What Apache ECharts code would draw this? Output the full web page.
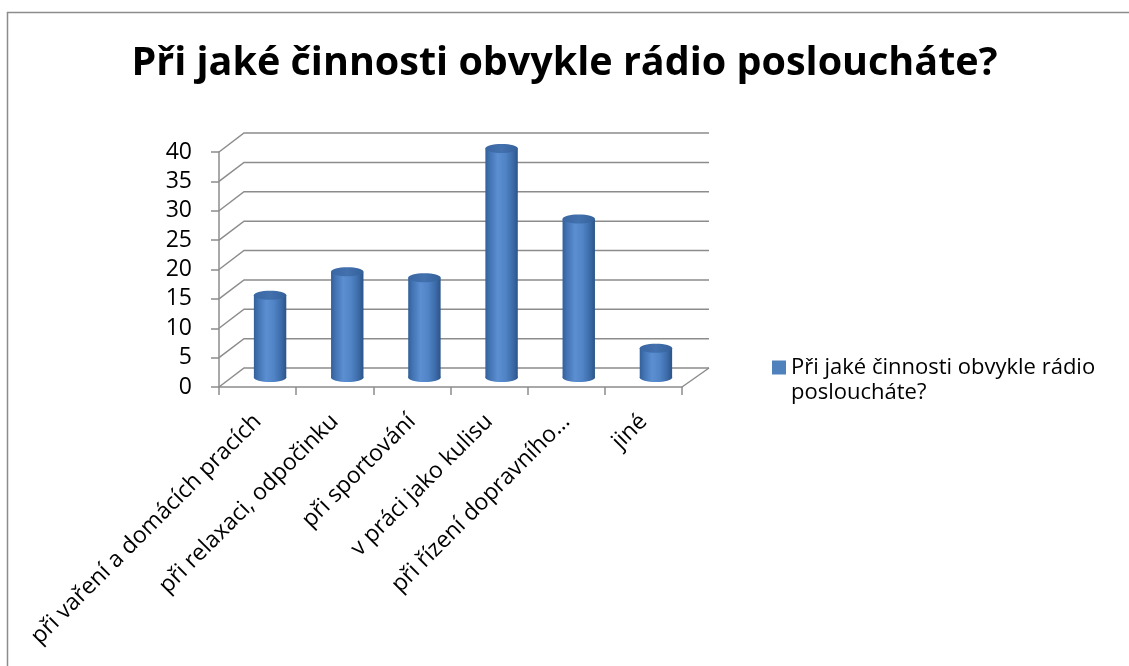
<!DOCTYPE html>
<html>
<head>
<meta charset="utf-8">
<script src="https://cdn.jsdelivr.net/npm/echarts@6/dist/echarts.min.js"></script>
<style>
  html, body { margin: 0; padding: 0; background: #fff; }
  #chart { width: 1129px; height: 666px; }
</style>
</head>
<body>
<div id="chart"></div>
<script>
// data
const titleText = 'Při jaké činnosti obvykle rádio posloucháte?'
const categories = [
  'při vaření a domácích pracích',
  'při relaxaci, odpočinku',
  'při sportování',
  'v práci jako kulisu',
  'při řízení dopravního…',
  'jiné'
]
const values = [14, 18, 17, 39, 27, 5]
const yTicks = [0, 5, 10, 15, 20, 25, 30, 35, 40]
const yMin = 0
const yMax = 40
const yStep = 5

// look
const DEPTH = [25, -19] // fake 3d depth of the plot box
const LINE = '#8c8c8c'
const FONT = 'Open Sans'

// left wall diagonals + back wall gridlines
function renderWall(params, api) {
  const cs = params.coordSys
  const v = api.value(1)
  const y = api.coord([0, v])[1]
  const x0 = cs.x
  const x1 = cs.x + cs.width
  const children = [{
    type: 'polyline',
    shape: { points: [[x0, y], [x0 + DEPTH[0], y + DEPTH[1]], [x1 + DEPTH[0] + 2, y + DEPTH[1]]] },
    style: { stroke: LINE, lineWidth: 1.5, fill: 'none' }
  }]
  if (v === yMin) {
    // right edge of the floor
    children.push({
      type: 'line',
      shape: { x1: x1, y1: y, x2: x1 + DEPTH[0] + 2, y2: y + DEPTH[1] },
      style: { stroke: LINE, lineWidth: 1.5 }
    })
  }
  return { type: 'group', children }
}

// cylinder bar, sitting half way into the depth
function renderCylinder(params, api) {
  const i = api.value(0)
  const top = api.coord([i, api.value(1)])
  const base = api.coord([i, yMin])
  const w = api.size([1, 0])[0] * 0.42
  const rx = w / 2
  const ry = 4.5
  const cx = top[0] + DEPTH[0] / 2
  const ty = top[1] + DEPTH[1] / 2
  const by = base[1] + DEPTH[1] / 2
  const body = new echarts.graphic.LinearGradient(0, 0, 1, 0, [
    { offset: 0, color: '#33609a' },
    { offset: 0.15, color: '#4475b5' },
    { offset: 0.38, color: '#5b8fd2' },
    { offset: 0.62, color: '#5084c6' },
    { offset: 0.86, color: '#3b69a6' },
    { offset: 1, color: '#2b5487' }
  ])
  const cap = new echarts.graphic.LinearGradient(0, 0, 1, 0, [
    { offset: 0, color: '#3a67a2' },
    { offset: 0.5, color: '#4371ae' },
    { offset: 1, color: '#34619b' }
  ])
  return {
    type: 'group',
    children: [
      { type: 'ellipse', shape: { cx: cx, cy: by, rx: rx, ry: ry }, style: { fill: body } },
      { type: 'rect', shape: { x: cx - rx, y: ty, width: w, height: by - ty }, style: { fill: body } },
      { type: 'ellipse', shape: { cx: cx, cy: ty, rx: rx, ry: ry }, style: { fill: cap } }
    ]
  }
}

const options = {
  backgroundColor: '#fff',
  animation: false,
  title: {
    text: titleText,
    left: 'center',
    top: 39,
    textStyle: { fontFamily: FONT, fontWeight: 'bold', fontSize: 39.5, color: '#000' }
  },
  legend: {
    left: 772,
    top: 355,
    padding: 0,
    itemWidth: 14,
    itemHeight: 39,
    data: [{
      name: titleText,
      // square sits on the first text line
      icon: 'path://M0,0L14,0L14,14L0,14Z M0,39L14,39',
      itemStyle: { color: '#4F81BD' }
    }],
    formatter: name => name.replace(' poslouchát', '\nposlouchát'),
    textStyle: { fontFamily: FONT, fontSize: 22, lineHeight: 25, color: '#000' }
  },
  graphic: [{
    type: 'rect',
    shape: { x: 7.5, y: 12.5, width: 1300, height: 800 },
    style: { fill: 'none', stroke: LINE, lineWidth: 1.5 },
    z: -10
  }],
  grid: { left: 219, top: 152, width: 463, height: 235 },
  xAxis: {
    type: 'category',
    data: categories,
    axisLine: { lineStyle: { color: LINE, width: 1.5 } },
    axisTick: { show: true, length: 8, lineStyle: { color: LINE, width: 1.5 } },
    axisLabel: { interval: 0, rotate: 45, margin: 31, fontFamily: FONT, fontSize: 23, color: '#000' },
    splitLine: { show: false }
  },
  yAxis: {
    type: 'value',
    min: yMin,
    max: yMax,
    interval: yStep,
    axisLine: { show: true, lineStyle: { color: LINE, width: 1.5 } },
    axisTick: { show: true, length: 8, lineStyle: { color: LINE, width: 1.5 } },
    axisLabel: { margin: 27, fontFamily: FONT, fontSize: 23, color: '#000' },
    splitLine: { show: false }
  },
  series: [
    {
      type: 'custom',
      name: 'wall',
      silent: true,
      z: 1,
      renderItem: renderWall,
      data: yTicks.map(v => [0, v])
    },
    {
      type: 'custom',
      name: titleText,
      z: 3,
      itemStyle: { color: '#4F81BD' },
      renderItem: renderCylinder,
      data: values.map((v, i) => [i, v])
    }
  ]
}

const chart = echarts.init(document.getElementById('chart'))
chart.setOption(options)
window.addEventListener('resize', function () {
  chart && chart.resize()
})
</script>
</body>
</html>
